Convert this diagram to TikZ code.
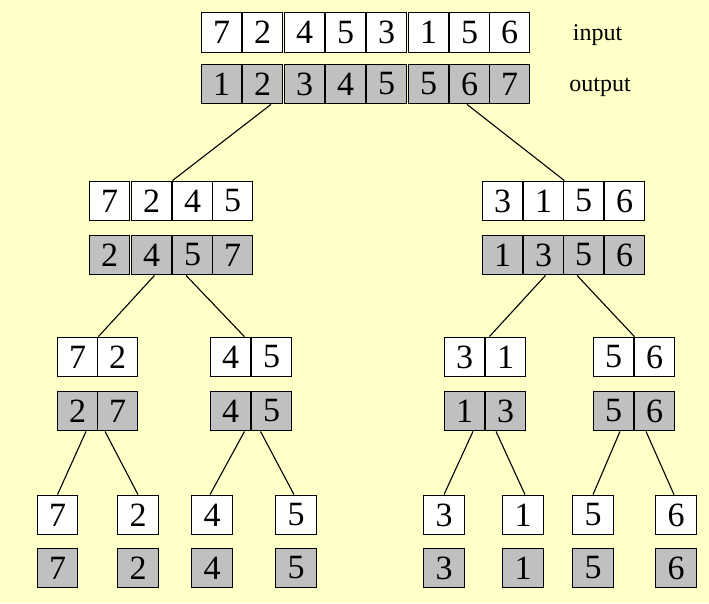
\documentclass[tikz,border=0pt]{standalone}
\usepackage{fontspec}
\setmainfont{Liberation Serif}
\newfontfamily\cellfont{Liberation Serif}
\definecolor{paper}{HTML}{FFFFC8}
\definecolor{sorted}{HTML}{C0C0C0}
\begin{document}
\begin{tikzpicture}[x=1pt,y=-1pt,
  cell/.style={draw=black, line width=1.3pt, minimum width=40.5pt, minimum height=39.5pt,
               inner sep=0pt, font=\cellfont\fontsize{34}{36}\selectfont},
  incell/.style={cell, fill=white},
  outcell/.style={cell, fill=sorted},
  tag/.style={anchor=base, inner sep=0pt, font=\cellfont\fontsize{24}{26}\selectfont},
  link/.style={draw=black, line width=1.1pt}]
\fill[paper] (0,0) rectangle (709,603);
\useasboundingbox (0,0) rectangle (709,603);

% level 1: the whole sequence
\foreach \x/\v [count=\k] in {221.5/7,262.5/2,304.5/4,345.5/5,386.5/3,428.5/1,469.5/5,509.5/6}
  \node[incell] (i\k) at (\x,32.5) {\v};
\foreach \x/\v [count=\k] in {221.5/1,262.5/2,304.5/3,345.5/4,386.5/5,428.5/5,469.5/6,509.5/7}
  \node[outcell] (o\k) at (\x,84) {\v};
\node[tag] (lin) at (597.5,40) {input};
\node[tag] (lout) at (600,91) {output};

% level 2: halves
\foreach \x/\v [count=\k] in {109.5/7,151.5/2,192.5/4,232.5/5}
  \node[incell] (pa\k) at (\x,201) {\v};
\foreach \x/\v [count=\k] in {109.5/2,151.5/4,192.5/5,232.5/7}
  \node[outcell] (qa\k) at (\x,255) {\v};
\foreach \x/\v [count=\k] in {502.5/3,543.5/1,583.5/5,624.5/6}
  \node[incell] (pb\k) at (\x,201) {\v};
\foreach \x/\v [count=\k] in {502.5/1,543.5/3,583.5/5,624.5/6}
  \node[outcell] (qb\k) at (\x,255) {\v};

% level 3: quarters
\foreach \n/\xa/\xb/\ia/\ib/\oa/\ob in {c/77.5/117.5/7/2/2/7, d/230.5/271.5/4/5/4/5,
                                     e/464.5/505.5/3/1/1/3, f/613.5/654.5/5/6/5/6} {
  \node[incell] (p\n1) at (\xa,357) {\ia};
  \node[incell] (p\n2) at (\xb,357) {\ib};
  \node[outcell] (q\n1) at (\xa,411) {\oa};
  \node[outcell] (q\n2) at (\xb,411) {\ob};
}

% level 4: single elements
\foreach \x/\v [count=\k] in {57.5/7,138/2,212/4,296/5,444/3,523/1,593/5,676/6} {
  \node[incell] (r\k) at (\x,515) {\v};
  \node[outcell] (s\k) at (\x,568) {\v};
}

% splitting connectors
\draw[link] ([xshift=8.5]o2.south) -- (pa2.north east);
\draw[link] ([xshift=-2.5]o7.south) -- (pb2.north east);

\draw[link] ([xshift=3]qa2.south) -- (pc1.north east);
\draw[link] ([xshift=-6.5]qa3.south) -- ([xshift=-7]pd1.north east);
\draw[link] ([xshift=2]qb2.south) -- ([xshift=4]pe1.north east);
\draw[link] ([xshift=-6.5]qb3.south) -- (pf1.north east);

\draw[link] ([xshift=8.5]qc1.south) -- (r1.north);
\draw[link] ([xshift=-12.5]qc2.south) -- (r2.north);
\draw[link] ([xshift=14]qd1.south) -- ([xshift=-2]r3.north);
\draw[link] ([xshift=-11]qd2.south) -- ([xshift=-2]r4.north);
\draw[link] ([xshift=8.5]qe1.south) -- (r5.north);
\draw[link] ([xshift=-9.5]qe2.south) -- ([xshift=2]r6.north);
\draw[link] ([xshift=6.5]qf1.south) -- (r7.north);
\draw[link] ([xshift=-8.5]qf2.south) -- ([xshift=-2]r8.north);
\end{tikzpicture}
\end{document}
